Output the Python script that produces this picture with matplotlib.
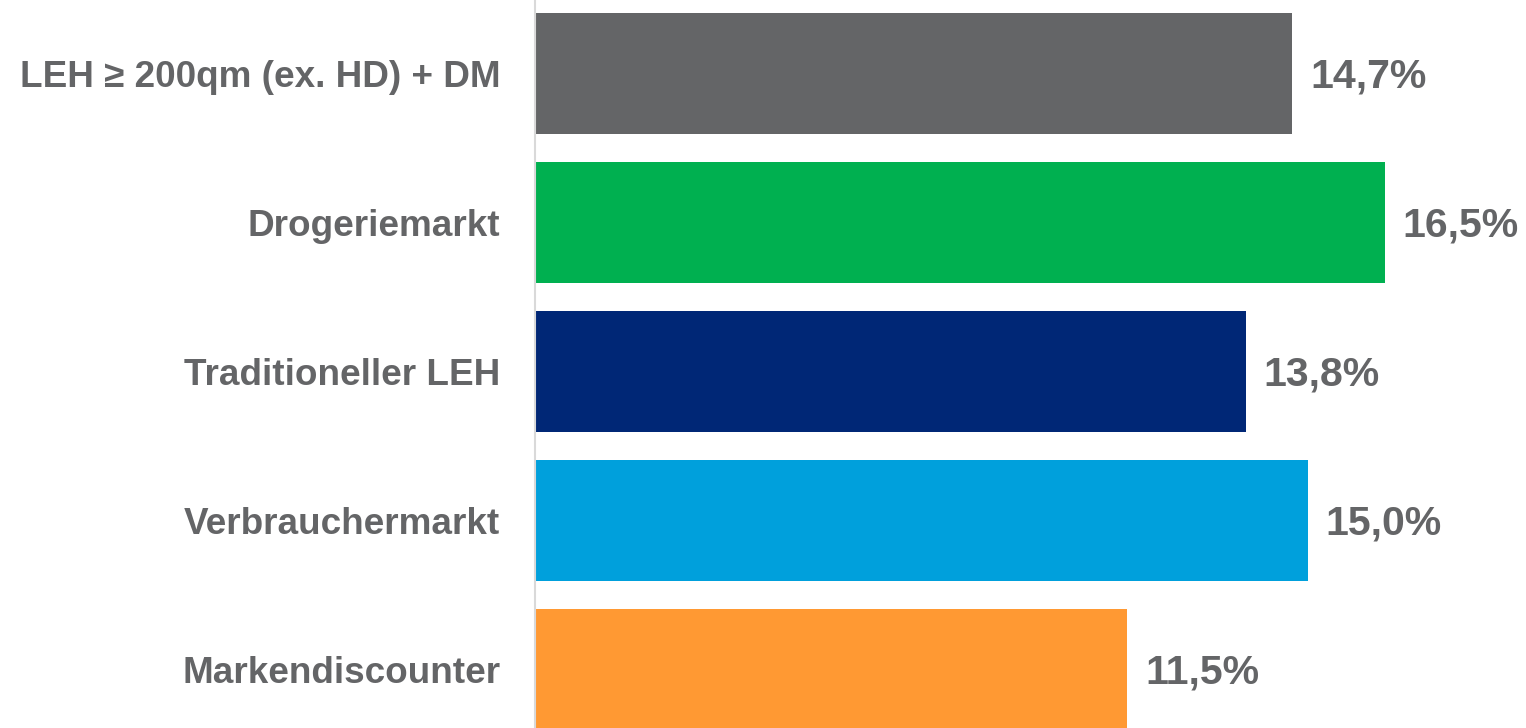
import matplotlib
matplotlib.use("Agg")
import matplotlib.pyplot as plt

categories = ["LEH ≥ 200qm (ex. HD) + DM", "Drogeriemarkt", "Traditioneller LEH",
              "Verbrauchermarkt", "Markendiscounter"]
values = [14.7, 16.5, 13.8, 15.0, 11.5]
value_labels = ["14,7%", "16,5%", "13,8%", "15,0%", "11,5%"]
colors = ["#646567", "#00B050", "#002776", "#00A0DC", "#FF9933"]

TEXT_GRAY = "#646567"
plt.rcParams["font.family"] = ["Liberation Sans", "DejaVu Sans"]

fig = plt.figure(figsize=(15.26, 7.28), dpi=100)
ax = fig.add_axes([535 / 1526, 0, 1 - 535 / 1526, 1])

pos = list(range(len(categories)))
ax.barh(pos, values, height=0.812, color=colors, zorder=2)

# value labels to the right of each bar
for p, v, lab in zip(pos, values, value_labels):
    ax.text(v + 0.35, p + 0.02, lab, va="center", ha="left", fontsize=29.5,
            fontweight="bold", color=TEXT_GRAY)

ax.set_xlim(0, (1526 - 535) / 51.5)
ax.set_ylim(4.393, -0.493)
ax.set_yticks(pos)
ax.set_yticklabels(categories, fontsize=26.6, fontweight="bold", color=TEXT_GRAY)
ax.tick_params(axis="y", length=0, pad=25)
ax.set_xticks([])
for side in ["top", "right", "bottom"]:
    ax.spines[side].set_visible(False)
ax.spines["left"].set_color("#D9D9D9")
ax.spines["left"].set_linewidth(1.5)

fig.savefig("out.png", dpi=100)
